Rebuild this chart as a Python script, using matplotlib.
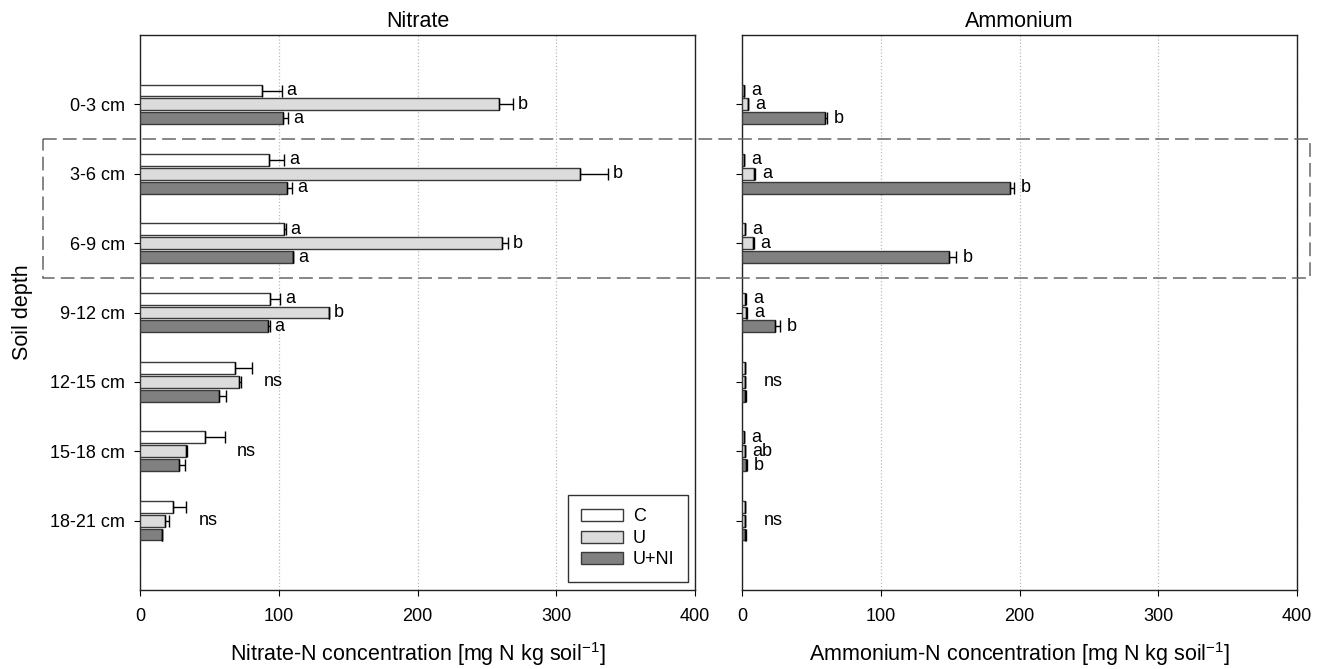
import matplotlib
matplotlib.use('Agg')
import matplotlib.pyplot as plt
import numpy as np
from matplotlib.patches import Rectangle
from matplotlib.transforms import blended_transform_factory

plt.rcParams['font.family'] = ['Liberation Sans', 'DejaVu Sans']
plt.rcParams['mathtext.default'] = 'regular'

depths = ['0-3 cm', '3-6 cm', '6-9 cm', '9-12 cm', '12-15 cm', '15-18 cm', '18-21 cm']
treatments = ['C', 'U', 'U+NI']

# nitrate-N, mg N kg soil-1
nitrate_c = [88, 93, 104, 94, 68.5, 47, 24]
nitrate_c_err = [14, 11, 1, 7, 12, 14, 9.5]
nitrate_u = [259, 317, 261, 136, 71.5, 33.5, 18]
nitrate_u_err = [10, 20, 4, 0, 1.5, 0.5, 3]
nitrate_uni = [103, 106, 110.5, 92.5, 57, 28, 16]
nitrate_uni_err = [4, 3.5, 0, 1, 5, 4.5, 0]
nitrate_letters = [['a', 'b', 'a'], ['a', 'b', 'a'], ['a', 'b', 'a'], ['a', 'b', 'a'],
                   'ns', 'ns', 'ns']

# ammonium-N, mg N kg soil-1
ammonium_c = [1.5, 1.5, 2, 2.5, 2, 1.5, 2]
ammonium_c_err = [0.3, 0.3, 0.3, 0.3, 0.3, 0.3, 0.3]
ammonium_u = [4, 9, 8, 3, 2, 2, 2]
ammonium_u_err = [0.5, 0.5, 0.5, 0.5, 0.3, 0.3, 0.3]
ammonium_uni = [60, 193, 149, 23.5, 2.5, 3, 2.5]
ammonium_uni_err = [1, 3, 5, 4, 0.3, 0.3, 0.3]
ammonium_letters = [['a', 'a', 'b'], ['a', 'a', 'b'], ['a', 'a', 'b'], ['a', 'a', 'b'],
                    'ns', ['a', 'ab', 'b'], 'ns']

bar_colors = ['#ffffff', '#dcdcdc', '#808080']
edge = '#3a3a3a'

fig = plt.figure(figsize=(13.32, 6.69), dpi=100)
ax1 = fig.add_axes([140 / 1332, 1 - 590 / 669, 555 / 1332, 555 / 669])
ax2 = fig.add_axes([742 / 1332, 1 - 590 / 669, 555 / 1332, 555 / 669])

y = np.arange(1, len(depths) + 1)
offsets = [-0.2, 0, 0.2]
bh = 0.17


def draw_panel(ax, vals, errs, letters, title, xlabel, gap, ns_gap):
    for k in range(3):
        v = np.array(vals[k])
        e = np.array(errs[k])
        ax.barh(y + offsets[k], v, height=bh, color=bar_colors[k], edgecolor=edge,
                linewidth=1, label=treatments[k], zorder=3)
        ax.errorbar(v, y + offsets[k], xerr=[np.zeros_like(e), e], fmt='none',
                    ecolor='black', elinewidth=1, capsize=4, capthick=1, zorder=4)
    for i in range(len(depths)):
        if letters[i] == 'ns':
            top = max(vals[k][i] + errs[k][i] for k in range(3))
            ax.text(top + ns_gap, y[i], 'ns', ha='left', va='center', fontsize=13)
        else:
            for k in range(3):
                ax.text(vals[k][i] + errs[k][i] + gap, y[i] + offsets[k], letters[i][k],
                        ha='left', va='center', fontsize=13)

    ax.set_xlim(0, 400)
    ax.set_ylim(8, 0)
    ax.set_yticks(y)
    ax.set_xticks([0, 100, 200, 300, 400])
    ax.tick_params(direction='out', length=4, labelsize=13, pad=7)
    ax.tick_params(axis='x', pad=9)
    ax.grid(axis='x', color='#bbbbbb', linestyle=':', linewidth=0.9, zorder=0)
    ax.set_axisbelow(True)
    for s in ax.spines.values():
        s.set_color('#222222')
        s.set_linewidth(1)
    ax.set_title(title, fontsize=15.5, pad=6)
    ax.set_xlabel(xlabel, fontsize=15.5, labelpad=11)


draw_panel(ax1, [nitrate_c, nitrate_u, nitrate_uni],
           [nitrate_c_err, nitrate_u_err, nitrate_uni_err], nitrate_letters,
           'Nitrate', r'Nitrate-N concentration [mg N kg soil$^{-1}$]', 3.5, 9)
draw_panel(ax2, [ammonium_c, ammonium_u, ammonium_uni],
           [ammonium_c_err, ammonium_u_err, ammonium_uni_err], ammonium_letters,
           'Ammonium', r'Ammonium-N concentration [mg N kg soil$^{-1}$]', 5, 13)

ax1.set_yticklabels(depths)
ax1.set_ylabel('Soil depth', fontsize=15.5, labelpad=12)
ax2.set_yticklabels([])

leg = ax1.legend(loc='lower right', fontsize=13, frameon=True, fancybox=False,
                 edgecolor='black', handlelength=2.3, handleheight=0.65,
                 handletextpad=0.55, borderpad=0.75, labelspacing=0.25,
                 borderaxespad=0, bbox_to_anchor=(1 - 7 / 555, 8 / 555))
leg.get_frame().set_linewidth(1)

# dashed box around the 3-9 cm layers
tr = blended_transform_factory(fig.transFigure, ax1.transData)
box = Rectangle((43 / 1332, 1.5), (1310 - 43) / 1332, 2.0, transform=tr, fill=False,
                edgecolor='#666666', linestyle=(0, (9, 4)), linewidth=1.1, clip_on=False)
fig.add_artist(box)

fig.savefig('out.png', dpi=100)
